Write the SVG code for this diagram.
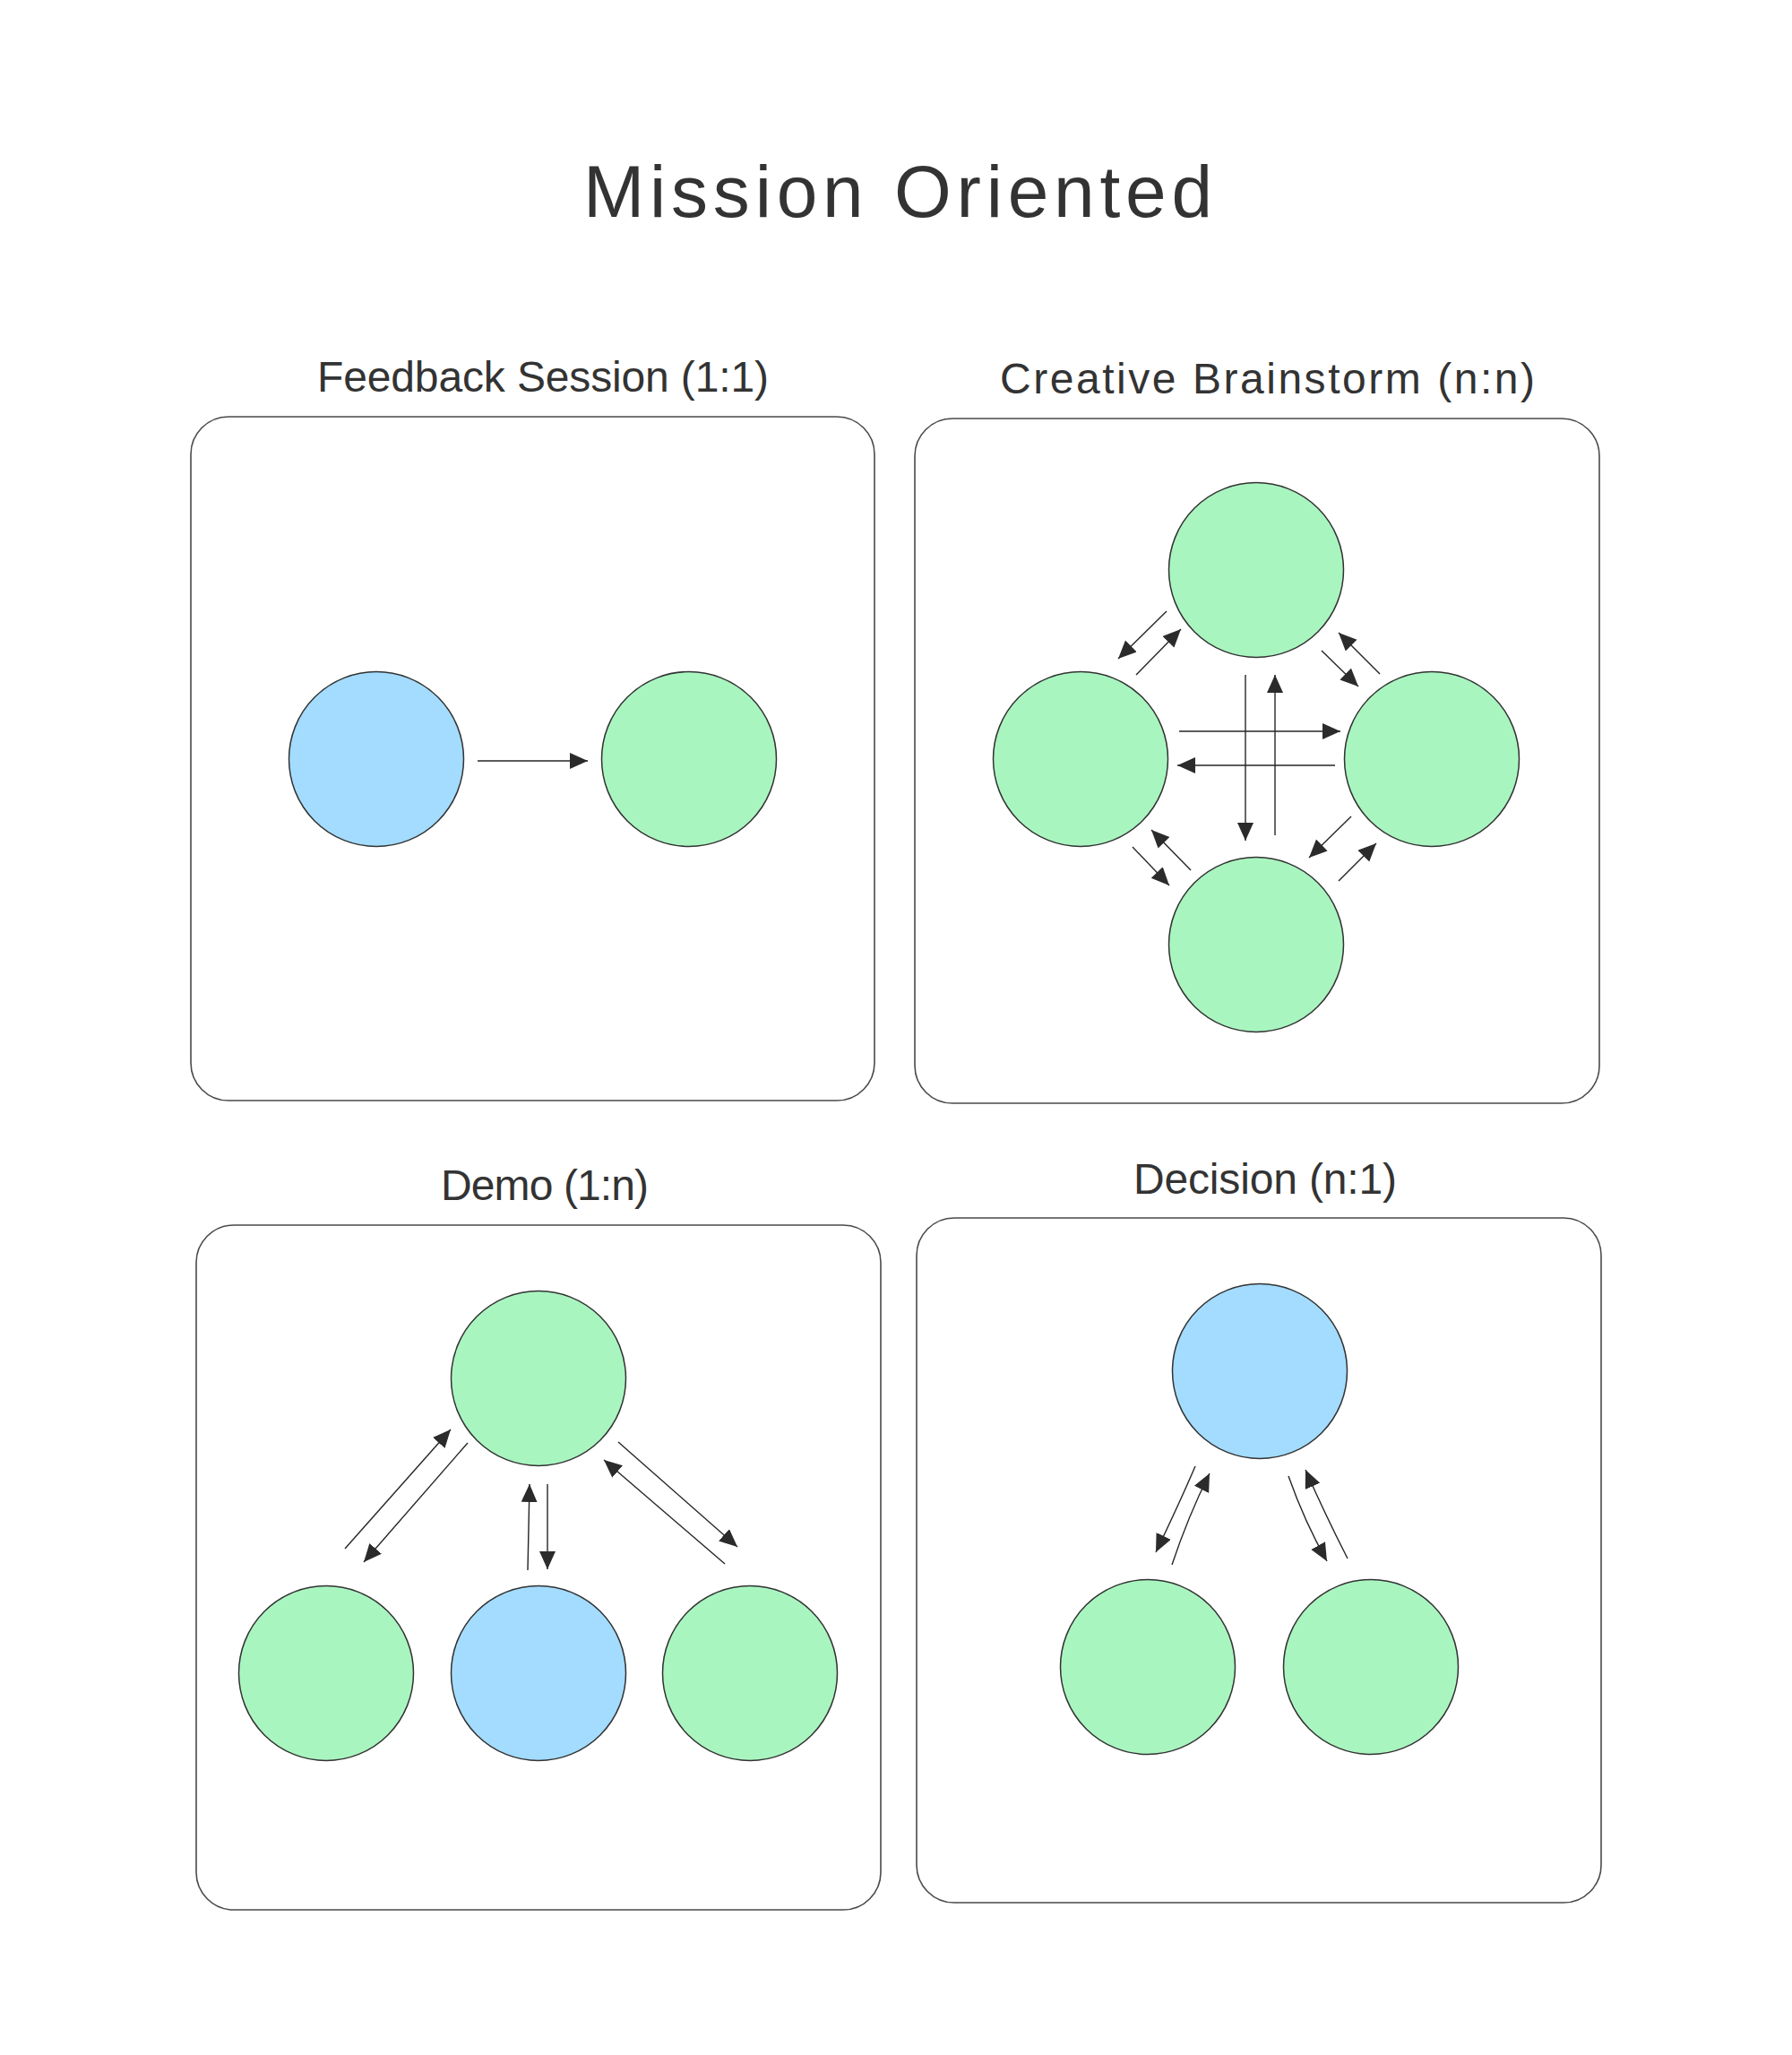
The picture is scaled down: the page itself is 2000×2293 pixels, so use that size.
<svg xmlns="http://www.w3.org/2000/svg" width="2000" height="2293" viewBox="0 0 2000 2293">
<style>
.frame{fill:#ffffff;stroke:#4a4a4a;stroke-width:1.6}
.g{fill:#a9f5c0;stroke:#333333;stroke-width:1.5}
.b{fill:#a3dcff;stroke:#333333;stroke-width:1.5}
.t{font-family:'Liberation Sans',sans-serif;fill:#333333}
.title{font-size:82px}
.lbl{font-size:48px}
.conn line,.conn path{stroke:#262626;stroke-width:1.4;fill:none;marker-end:url(#ah)}
</style>
<defs>
<marker id="ah" markerUnits="userSpaceOnUse" markerWidth="22" markerHeight="20" viewBox="0 0 22 20" refX="20" refY="9" orient="auto">
<path d="M0,0 L20,9 L0,18 Z" fill="#2b2b2b"/>
</marker>
</defs>
<rect width="2000" height="2293" fill="#ffffff"/>
<text id="title" class="t title" x="651" y="242" textLength="702" lengthAdjust="spacing">Mission Oriented</text>

<g id="feedback">
<text class="t lbl" x="354" y="437" textLength="504" lengthAdjust="spacing">Feedback Session (1:1)</text>
<rect class="frame" x="213" y="465" width="763" height="763" rx="42"/>
<circle id="fb-a" class="b" cx="420" cy="847" r="97.5"/>
<circle id="fb-b" class="g" cx="769" cy="847" r="97.5"/>
</g>

<g id="brainstorm">
<text class="t lbl" x="1116" y="439" textLength="597" lengthAdjust="spacing">Creative Brainstorm (n:n)</text>
<rect class="frame" x="1021" y="467" width="764" height="764" rx="42"/>
<circle id="bs-top" class="g" cx="1402" cy="636" r="97.5"/>
<circle id="bs-left" class="g" cx="1206" cy="847" r="97.5"/>
<circle id="bs-right" class="g" cx="1598" cy="847" r="97.5"/>
<circle id="bs-bottom" class="g" cx="1402" cy="1054" r="97.5"/>
</g>

<g id="demo">
<text class="t lbl" x="492" y="1339" textLength="232" lengthAdjust="spacing">Demo (1:n)</text>
<rect class="frame" x="219" y="1367" width="764" height="764" rx="42"/>
<circle id="dm-top" class="g" cx="601" cy="1538" r="97.5"/>
<circle id="dm-l" class="g" cx="364" cy="1867" r="97.5"/>
<circle id="dm-m" class="b" cx="601" cy="1867" r="97.5"/>
<circle id="dm-r" class="g" cx="837" cy="1867" r="97.5"/>
</g>

<g id="decision">
<text class="t lbl" x="1265" y="1332" textLength="294" lengthAdjust="spacing">Decision (n:1)</text>
<rect class="frame" x="1023" y="1359" width="764" height="764" rx="42"/>
<circle id="dc-top" class="b" cx="1406" cy="1530" r="97.5"/>
<circle id="dc-l" class="g" cx="1281" cy="1860" r="97.5"/>
<circle id="dc-r" class="g" cx="1530" cy="1860" r="97.5"/>
</g>

<g id="connectors" class="conn">
<line x1="533" y1="849" x2="656" y2="849"/>

<line x1="1316" y1="816" x2="1496" y2="816"/>
<line x1="1490" y1="854" x2="1314" y2="854"/>
<line x1="1390" y1="753" x2="1390" y2="938"/>
<line x1="1423" y1="932" x2="1423" y2="753"/>
<line x1="1302" y1="682" x2="1248" y2="735"/>
<line x1="1268" y1="753" x2="1318" y2="702"/>
<line x1="1475" y1="726" x2="1516" y2="766"/>
<line x1="1540" y1="752" x2="1494" y2="706"/>
<line x1="1508" y1="911" x2="1461" y2="957"/>
<line x1="1494" y1="983" x2="1536" y2="941"/>
<line x1="1264" y1="945" x2="1305" y2="988"/>
<line x1="1329" y1="971" x2="1285" y2="926"/>

<line x1="385" y1="1728" x2="503" y2="1595"/>
<line x1="522" y1="1610" x2="406" y2="1743"/>
<line x1="589" y1="1752" x2="591" y2="1656"/>
<line x1="611" y1="1656" x2="611" y2="1751"/>
<line x1="690" y1="1609" x2="823" y2="1726"/>
<line x1="809" y1="1745" x2="674" y2="1629"/>

<path d="M1334,1636 Q1316,1678 1290,1732"/>
<path d="M1308,1746 Q1326,1692 1350,1644"/>
<path d="M1438,1647 Q1456,1698 1481,1742"/>
<path d="M1504,1739 Q1478,1688 1457,1640"/>
</g>
</svg>
